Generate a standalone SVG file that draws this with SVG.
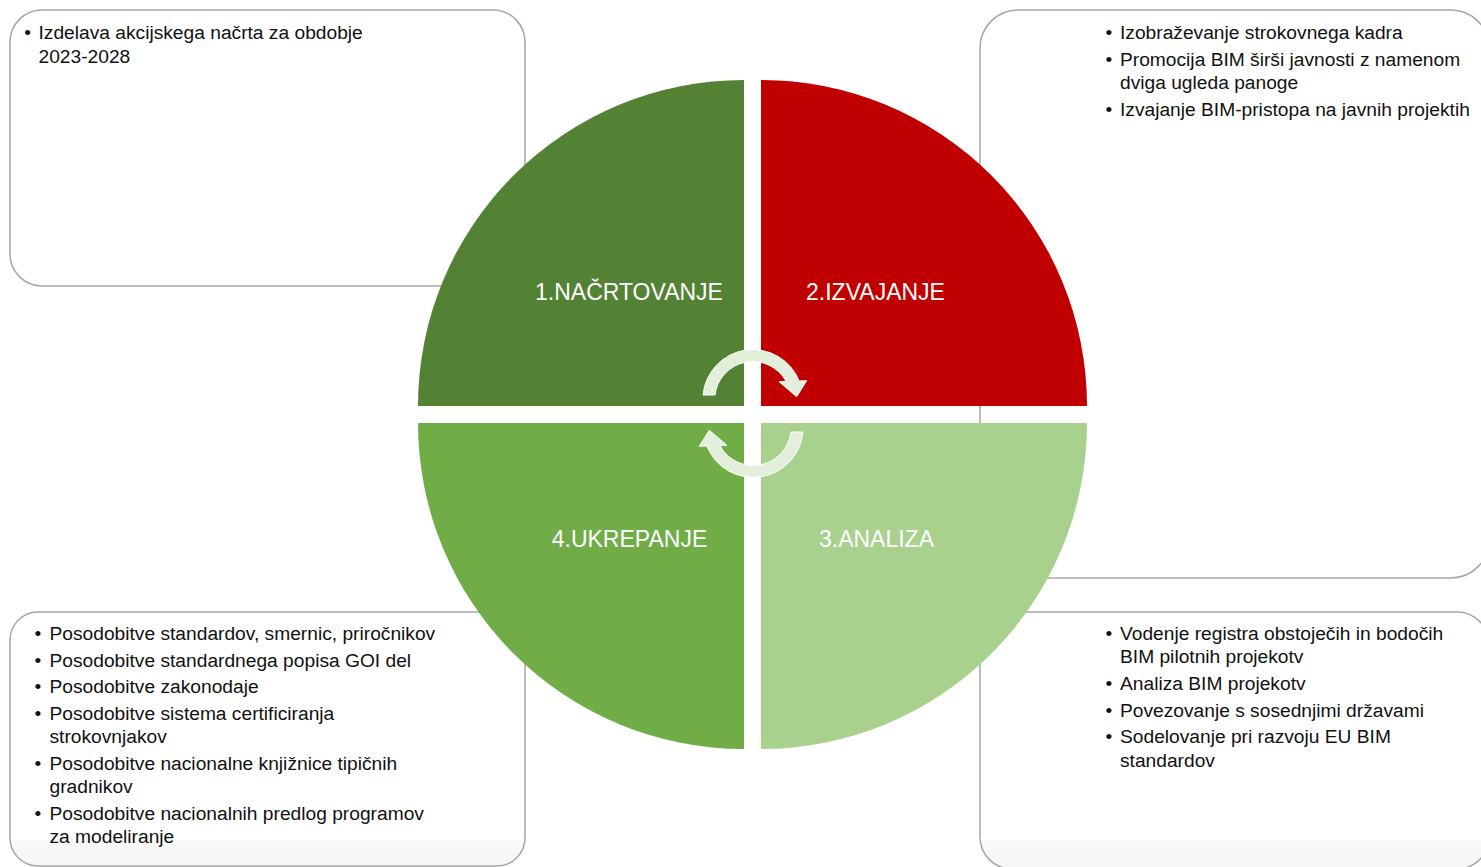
<svg xmlns="http://www.w3.org/2000/svg" width="1481" height="867" viewBox="0 0 1481 867">
  <defs>
    <style>
      .box{stroke:#A6A6A6;stroke-width:1.5}
      .t{font-family:'Liberation Sans',Arial,sans-serif;font-size:19.2px;fill:#111}
      .lbl{font-family:'Liberation Sans',Arial,sans-serif;font-size:23px;fill:#ffffff;text-anchor:middle}
      .arr{fill:#E2EFDA;stroke:#ffffff;stroke-width:1}
    </style>
    <linearGradient id="boxFill" gradientUnits="userSpaceOnUse" x1="0" y1="612" x2="0" y2="867">
      <stop offset="0" stop-color="#ffffff"/>
      <stop offset="0.89" stop-color="#ffffff"/>
      <stop offset="0.9" stop-color="#f8f8f8"/>
      <stop offset="1" stop-color="#f6f6f6"/>
    </linearGradient>
  </defs>
  <rect width="1481" height="867" fill="#ffffff"/>

  <g id="notes-planning">
    <rect class="box" x="10" y="10" width="515" height="276" rx="32" fill="#ffffff"/>
    <text class="t" x="24.2" y="39.3">•</text>
    <text class="t" x="38.5" y="39.3">Izdelava akcijskega načrta za obdobje</text>
    <text class="t" x="38.5" y="62.7">2023-2028</text>
  </g>

  <g id="notes-implementation">
    <rect class="box" x="980" y="10" width="509" height="568" rx="38" fill="#ffffff"/>
    <text class="t" x="1105.5" y="39.3">•</text>
    <text class="t" x="1120" y="39.3">Izobraževanje strokovnega kadra</text>
    <text class="t" x="1105.5" y="66">•</text>
    <text class="t" x="1120" y="66">Promocija BIM širši javnosti z namenom</text>
    <text class="t" x="1120" y="89.3">dviga ugleda panoge</text>
    <text class="t" x="1105.5" y="116">•</text>
    <text class="t" x="1120" y="116">Izvajanje BIM-pristopa na javnih projektih</text>
  </g>

  <g id="notes-analysis">
    <rect class="box" x="980" y="612" width="509" height="257" rx="32" fill="url(#boxFill)"/>
    <text class="t" x="1105.5" y="640">•</text>
    <text class="t" x="1120" y="640">Vodenje registra obstoječih in bodočih</text>
    <text class="t" x="1120" y="663.3">BIM pilotnih projekotv</text>
    <text class="t" x="1105.5" y="690">•</text>
    <text class="t" x="1120" y="690">Analiza BIM projekotv</text>
    <text class="t" x="1105.5" y="716.7">•</text>
    <text class="t" x="1120" y="716.7">Povezovanje s sosednjimi državami</text>
    <text class="t" x="1105.5" y="743.3">•</text>
    <text class="t" x="1120" y="743.3">Sodelovanje pri razvoju EU BIM</text>
    <text class="t" x="1120" y="766.7">standardov</text>
  </g>

  <g id="notes-action">
    <rect class="box" x="10" y="612" width="515" height="254" rx="28" fill="url(#boxFill)"/>
    <text class="t" x="34.5" y="640">•</text>
    <text class="t" x="49.5" y="640">Posodobitve standardov, smernic, priročnikov</text>
    <text class="t" x="34.5" y="666.7">•</text>
    <text class="t" x="49.5" y="666.7">Posodobitve standardnega popisa GOI del</text>
    <text class="t" x="34.5" y="693.3">•</text>
    <text class="t" x="49.5" y="693.3">Posodobitve zakonodaje</text>
    <text class="t" x="34.5" y="720">•</text>
    <text class="t" x="49.5" y="720">Posodobitve sistema certificiranja</text>
    <text class="t" x="49.5" y="743.3">strokovnjakov</text>
    <text class="t" x="34.5" y="770">•</text>
    <text class="t" x="49.5" y="770">Posodobitve nacionalne knjižnice tipičnih</text>
    <text class="t" x="49.5" y="793.3">gradnikov</text>
    <text class="t" x="34.5" y="820">•</text>
    <text class="t" x="49.5" y="820">Posodobitve nacionalnih predlog programov</text>
    <text class="t" x="49.5" y="843.3">za modeliranje</text>
  </g>

  <g id="quadrant-1-planning">
    <path d="M744 406 L418 406 A326 326 0 0 1 744 80 Z" fill="#548235"/>
    <text class="lbl" x="629" y="299.5">1.NAČRTOVANJE</text>
  </g>
  <g id="quadrant-2-implementation">
    <path d="M761 406 L761 80 A326 326 0 0 1 1087 406 Z" fill="#C00000"/>
    <text class="lbl" x="875.5" y="299.5">2.IZVAJANJE</text>
  </g>
  <g id="quadrant-3-analysis">
    <path d="M761 423 L1087 423 A326 326 0 0 1 761 749 Z" fill="#A9D18E"/>
    <text class="lbl" x="876.5" y="546.5">3.ANALIZA</text>
  </g>
  <g id="quadrant-4-action">
    <path d="M744 423 L744 749 A326 326 0 0 1 418 423 Z" fill="#70AD47"/>
    <text class="lbl" x="629.5" y="546.5">4.UKREPANJE</text>
  </g>

  <g id="connectors">
    <path id="cycle-arrow-top" class="arr" d="M703 395 A50 50 0 0 1 799.2 381 L806.7 380.7 L796.7 396.7 L779 381.7 L786.2 381.5 A38 38 0 0 0 715 395 Z"/>
    <path id="cycle-arrow-bottom" class="arr" transform="rotate(180 753 413.5)" d="M703 395 A50 50 0 0 1 799.2 381 L806.7 380.7 L796.7 396.7 L779 381.7 L786.2 381.5 A38 38 0 0 0 715 395 Z"/>
  </g>
</svg>
